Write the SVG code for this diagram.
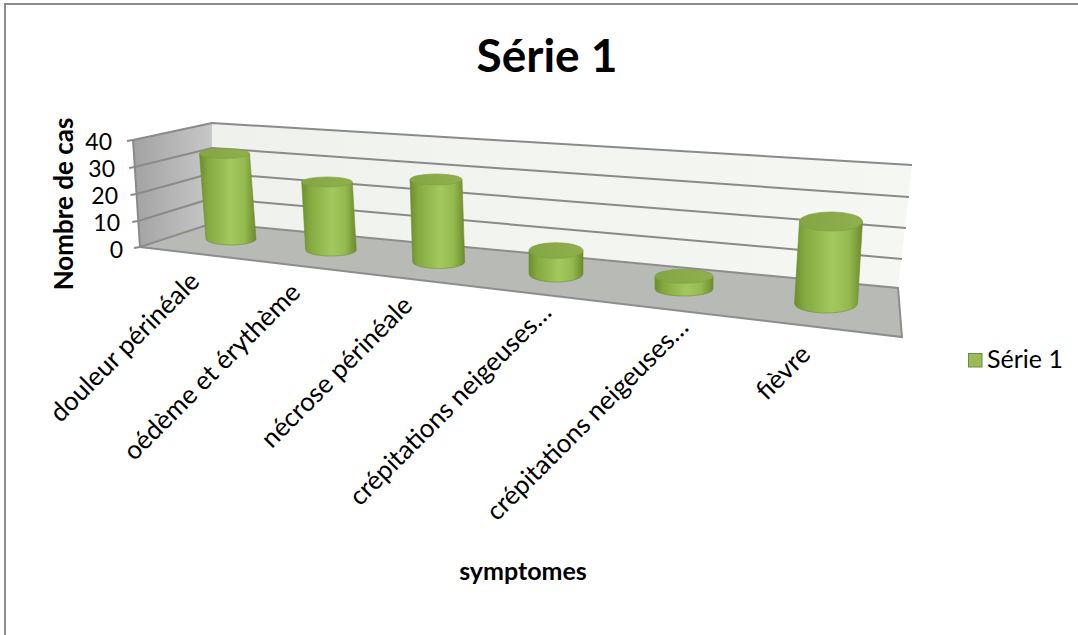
<svg xmlns="http://www.w3.org/2000/svg" width="1078" height="635" viewBox="0 0 1078 635">
<defs>
<style>
.grid{stroke:#8a8a8a;stroke-width:2;fill:none}
.tick{font-family:Lato,"Liberation Sans",sans-serif;font-size:23px;fill:#000;text-anchor:end}
.cat{font-family:Lato,"Liberation Sans",sans-serif;font-size:26px;fill:#000;text-anchor:end}
.body{fill:url(#cyl);stroke:#6f8f30;stroke-width:0.6}
.top{fill:url(#cyltop);stroke:#7e9e3e;stroke-width:0.6}
</style>
<linearGradient id="cyl" x1="0" y1="0" x2="1" y2="0">
<stop offset="0" stop-color="#6d8d2e"/>
<stop offset="0.15" stop-color="#85a940"/>
<stop offset="0.55" stop-color="#a2c95d"/>
<stop offset="0.8" stop-color="#94ba4f"/>
<stop offset="1" stop-color="#6b8b2c"/>
</linearGradient>
<linearGradient id="cyltop" x1="0" y1="0" x2="1" y2="0">
<stop offset="0" stop-color="#84a543"/>
<stop offset="1" stop-color="#8fb04d"/>
</linearGradient>
<linearGradient id="lwall" x1="0" y1="0" x2="1" y2="0">
<stop offset="0" stop-color="#a2a2a2"/>
<stop offset="1" stop-color="#c8c8c8"/>
</linearGradient>
<linearGradient id="bwall" x1="0" y1="0" x2="1" y2="0">
<stop offset="0" stop-color="#eff2ec"/>
<stop offset="1" stop-color="#f5f7f3"/>
</linearGradient>
</defs>
<rect width="1078" height="635" fill="#fff"/>
<rect id="frame" x="5" y="4" width="1200" height="800" fill="none" stroke="#8c8c8c" stroke-width="2"/>
<text id="title" x="547" y="72" text-anchor="middle" font-family="Lato,'Liberation Sans',sans-serif" font-size="46" font-weight="bold">Série 1</text>
<g id="walls">
<polygon points="133,140 212,123 213,223 140,247" fill="url(#lwall)"/>
<polygon points="212,123 912,165 898,288 213,223" fill="url(#bwall)"/>
<polygon points="213,223 898,288 902,337 140,247" fill="#b8bab5" stroke="#8d8d8d" stroke-width="2"/>
</g>
<g id="gridlines">
<path class="grid" d="M133,140 L212,123 L912,165"/>
<path class="grid" d="M134.8,167 L212,148 L909,197"/>
<path class="grid" d="M136.5,194 L212.3,173 L906,228"/>
<path class="grid" d="M138.2,221 L212.7,198 L902,259"/>
<path class="grid" d="M133,140 L140,247"/>
<path class="grid" d="M127,141 L133,140 M129,168 L134.8,167 M130.5,195 L136.5,194 M132.2,222 L138.2,221 M134,248 L140,247"/>
</g>
<g id="yaxis">
<text class="tick" x="112" y="150">40</text>
<text class="tick" x="115" y="177">30</text>
<text class="tick" x="118" y="204">20</text>
<text class="tick" x="120" y="231">10</text>
<text class="tick" x="123" y="258">0</text>
<text x="73" y="204" transform="rotate(-90 73 204)" text-anchor="middle" font-family="Lato,'Liberation Sans',sans-serif" font-size="26" font-weight="bold">Nombre de cas</text>
</g>
<g id="bar1">
<path class="body" d="M199.5,153.5 L206,239 A25,6 0 0 0 256,239 L249.5,153.5 Z"/>
<ellipse class="top" cx="224.5" cy="153.5" rx="25" ry="5"/>
</g>
<g id="bar2">
<path class="body" d="M301.7,182 L305.7,250 A25.3,6 0 0 0 356.3,250 L352.3,182 Z"/>
<ellipse class="top" cx="327" cy="182" rx="25.3" ry="5"/>
</g>
<g id="bar3">
<path class="body" d="M410,179.5 L412.7,262 A26,6.5 0 0 0 464.7,262 L462,179.5 Z"/>
<ellipse class="top" cx="436" cy="179.5" rx="26" ry="5.5"/>
</g>
<g id="bar4">
<path class="body" d="M529,250.5 L529,274 A27,8 0 0 0 583,274 L583,250.5 Z"/>
<ellipse class="top" cx="556" cy="250.5" rx="27" ry="7.8"/>
</g>
<g id="bar5">
<path class="body" d="M655,276.3 L655,289 A29,7 0 0 0 713,289 L713,276.3 Z"/>
<ellipse class="top" cx="684" cy="276.3" rx="29" ry="7"/>
</g>
<g id="bar6">
<path class="body" d="M799.5,221.5 L794.5,303.5 A31.5,9.5 0 0 0 857.5,303.5 L862.5,221.5 Z"/>
<ellipse class="top" cx="831" cy="221.5" rx="31.5" ry="9.5"/>
</g>
<g id="categories">
<text class="cat" transform="translate(201,283) rotate(-45)">douleur périnéale</text>
<text class="cat" transform="translate(302,294) rotate(-45)">oédème et érythème</text>
<text class="cat" transform="translate(414,307) rotate(-45)">nécrose périnéale</text>
<text class="cat" transform="translate(553,314) rotate(-45)">crépitations neigeuses…</text>
<text class="cat" transform="translate(690,329) rotate(-45)">crépitations neigeuses…</text>
<text class="cat" transform="translate(812,356) rotate(-45)">fièvre</text>
</g>
<text id="xtitle" x="523" y="580" text-anchor="middle" font-family="Lato,'Liberation Sans',sans-serif" font-size="25" font-weight="bold">symptomes</text>
<g id="legend">
<rect x="968.5" y="353.5" width="13.5" height="13.5" fill="#9bbb59" stroke="#71893f" stroke-width="1"/>
<text x="987" y="368" font-family="Lato,'Liberation Sans',sans-serif" font-size="25">Série 1</text>
</g>
</svg>
